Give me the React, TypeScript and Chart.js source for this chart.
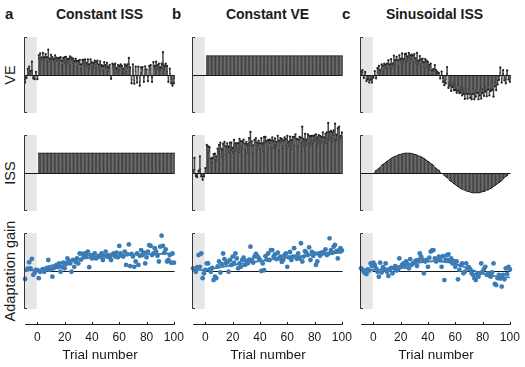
import React, { useEffect, useRef } from "react";
import { Chart, registerables } from "chart.js";

Chart.register(...registerables);

// ---------- text ----------
const PANEL_LETTERS = ["a", "b", "c"];
const PANEL_TITLES = ["Constant ISS", "Constant VE", "Sinusoidal ISS"];
const ROW_LABELS = ["VE", "ISS", "Adaptation gain"];
const X_TITLE = "Trial number";

// ---------- categories ----------
const PRE_TRIALS = [-9, -8, -7, -6, -5, -4, -3, -2, -1, 0];
const TRIALS = Array.from({ length: 100 }, (_, i) => i + 1);
const ALL_TRIALS = [...PRE_TRIALS, ...TRIALS];
const X_TICKS = [0, 20, 40, 60, 80, 100];

// ---------- column a : constant ISS ----------
const VE_A_PRE = [-0.12, -0.03, 0.06, 0.09, 0.05, 0.14, -0.04, -0.06, 0.02, -0.05];
const VE_A_PRE_ERR = [0.08, 0.05, 0.1, 0.13, 0.06, 0.21, 0.05, 0.05, 0.06, 0.06];
const VE_A = [
  0.44, 0.47, 0.40, 0.46, 0.42, 0.45, 0.38, 0.47, 0.36, 0.43,
  0.41, 0.30, 0.44, 0.36, 0.39, 0.33, 0.40, 0.28, 0.37, 0.32,
  0.38, 0.30, 0.35, 0.27, 0.40, 0.33, 0.25, 0.35, 0.22, 0.30,
  0.28, 0.18, 0.32, 0.26, 0.35, 0.22, 0.29, 0.19, 0.31, 0.25,
  0.17, 0.28, 0.22, 0.30, 0.14, 0.26, 0.20, 0.12, 0.24, 0.18,
  0.22, 0.10, 0.19, -0.04, 0.20, 0.15, 0.23, 0.08, 0.17, 0.12,
  0.20, 0.14, 0.05, 0.22, 0.10, 0.18, 0.30, 0.12, -0.12, 0.16,
  -0.15, 0.10, -0.10, 0.14, -0.18, 0.08, 0.12, -0.08, 0.15, 0.05,
  -0.06, 0.12, 0.18, -0.08, 0.22, 0.16, 0.25, 0.14, 0.20, 0.12,
  0.18, 0.30, 0.15, 0.22, 0.10, -0.08, 0.05, -0.12, -0.20, -0.10,
];
const VE_A_ERR = [
  0.08, 0.1, 0.06, 0.12, 0.05, 0.1, 0.09, 0.2, 0.07, 0.1,
  0.06, 0.12, 0.08, 0.1, 0.05, 0.12, 0.07, 0.1, 0.08, 0.15,
  0.1, 0.12, 0.08, 0.22, 0.06, 0.1, 0.12, 0.08, 0.15, 0.07,
  0.12, 0.1, 0.08, 0.14, 0.06, 0.1, 0.12, 0.09, 0.1, 0.08,
  0.15, 0.1, 0.12, 0.08, 0.14, 0.1, 0.06, 0.12, 0.1, 0.08,
  0.1, 0.12, 0.08, 0.06, 0.1, 0.12, 0.07, 0.1, 0.09, 0.12,
  0.08, 0.1, 0.12, 0.06, 0.14, 0.1, 0.15, 0.08, 0.1, 0.12,
  0.08, 0.12, 0.1, 0.08, 0.1, 0.12, 0.09, 0.1, 0.08, 0.1,
  0.1, 0.12, 0.08, 0.1, 0.12, 0.08, 0.1, 0.12, 0.1, 0.08,
  0.12, 0.3, 0.1, 0.08, 0.14, 0.1, 0.12, 0.1, 0.08, 0.12,
];
const ISS_A_LEVEL = 0.53;
const GAIN_A_PRE = [-0.21, 0.03, 0.06, 0.23, 0.07, 0.32, -0.10, -0.05, 0.03, 0.02];
const GAIN_A = [
  -0.19, -0.02, 0.00, 0.05, -0.02, 0.03, 0.08, 0.29, 0.03, 0.06,
  -0.15, 0.07, 0.12, 0.16, 0.10, 0.20, -0.02, 0.11, 0.22, 0.07,
  0.18, 0.33, 0.26, 0.20, -0.02, 0.29, 0.11, 0.24, 0.33, 0.20,
  0.46, 0.30, 0.45, 0.38, 0.46, 0.40, 0.51, 0.10, 0.42, 0.33,
  0.42, 0.46, 0.33, 0.36, 0.40, 0.38, 0.46, 0.29, 0.40, 0.51,
  0.38, 0.42, 0.35, 0.29, 0.44, 0.46, 0.38, 0.48, 0.36, 0.66,
  0.46, 0.40, 0.38, 0.51, 0.16, 0.44, 0.70, 0.13, 0.45, 0.38,
  0.11, 0.25, 0.46, 0.16, 0.40, 0.55, 0.42, 0.48, 0.20, 0.36,
  0.51, 0.68, 0.66, 0.42, 0.46, 0.60, 0.51, 0.40, 0.25, 0.64,
  0.93, 0.66, 0.48, 0.57, 0.25, 0.29, 0.42, 0.22, 0.46, 0.22,
];

// ---------- column b : constant VE ----------
const VE_B_LEVEL = 0.51;
const ISS_B_PRE = [0.02, 0.10, -0.03, -0.06, 0.02, 0.12, -0.05, -0.10, -0.04, 0.05];
const ISS_B_PRE_ERR = [0.05, 0.30, 0.05, 0.05, 0.04, 0.32, 0.04, 0.08, 0.05, 0.08];
const ISS_B = [
  0.62, 0.55, 0.58, 0.30, 0.28, 0.40, 0.36, 0.34, 0.52, 0.60,
  0.68, 0.45, 0.62, 0.72, 0.50, 0.66, 0.55, 0.70, 0.60, 0.52,
  0.75, 0.58, 0.68, 0.64, 0.55, 0.72, 0.65, 0.78, 0.62, 0.70,
  0.56, 0.80, 0.72, 0.68, 0.55, 0.75, 0.82, 0.60, 0.70, 0.66,
  0.74, 0.58, 0.85, 0.80, 0.72, 0.62, 0.78, 0.68, 0.82, 0.65,
  0.76, 0.70, 0.88, 0.60, 0.80, 0.72, 0.66, 0.84, 0.74, 0.78,
  0.70, 0.86, 0.62, 0.80, 0.75, 0.90, 0.72, 0.68, 0.85, 0.78,
  0.82, 0.70, 0.88, 0.76, 0.92, 0.80, 0.72, 0.86, 0.78, 0.84,
  0.90, 0.74, 0.82, 0.88, 0.80, 0.95, 0.84, 0.78, 0.92, 0.86,
  0.88, 0.96, 0.82, 1.00, 0.90, 0.86, 0.98, 0.92, 0.88, 0.95,
];
const ISS_B_ERR = [
  0.12, 0.15, 0.1, 0.08, 0.12, 0.1, 0.15, 0.1, 0.12, 0.14,
  0.12, 0.18, 0.15, 0.1, 0.2, 0.12, 0.15, 0.1, 0.2, 0.14,
  0.12, 0.2, 0.1, 0.15, 0.35, 0.12, 0.18, 0.1, 0.15, 0.12,
  0.2, 0.12, 0.36, 0.15, 0.18, 0.12, 0.1, 0.2, 0.15, 0.12,
  0.18, 0.2, 0.1, 0.15, 0.12, 0.25, 0.1, 0.18, 0.12, 0.2,
  0.15, 0.12, 0.1, 0.25, 0.12, 0.18, 0.2, 0.1, 0.15, 0.2,
  0.12, 0.1, 0.25, 0.15, 0.2, 0.12, 0.18, 0.2, 0.1, 0.15,
  0.4, 0.2, 0.15, 0.12, 0.1, 0.18, 0.25, 0.12, 0.2, 0.15,
  0.12, 0.2, 0.18, 0.1, 0.15, 0.12, 0.1, 0.25, 0.15, 0.46,
  0.2, 0.15, 0.25, 0.12, 0.4, 0.15, 0.2, 0.3, 0.1, 0.12,
];
const GAIN_B_PRE = [0.07, 0.04, -0.02, 0.10, 0.42, 0.11, 0.46, -0.19, -0.06, 0.03];
const GAIN_B = [
  0.20, 0.20, 0.04, -0.02, 0.08, -0.24, -0.15, -0.19, 0.12, 0.25,
  -0.04, 0.18, 0.46, 0.31, 0.20, 0.24, -0.02, 0.29, 0.16, 0.38,
  0.22, 0.46, 0.33, 0.07, 0.20, 0.11, 0.29, 0.35, 0.16, 0.26,
  0.20, 0.30, 0.64, 0.29, 0.22, 0.38, 0.45, 0.40, 0.34, 0.29,
  0.00, 0.20, 0.02, 0.39, 0.30, 0.46, 0.29, 0.55, 0.55, 0.38,
  0.44, 0.31, 0.48, 0.33, 0.38, 0.24, 0.29, 0.42, 0.46, 0.11,
  0.36, 0.50, 0.29, 0.38, 0.60, 0.38, 0.32, 0.46, 0.33, 0.73,
  0.25, 0.38, 0.52, 0.48, 0.42, 0.62, 0.29, 0.50, 0.40, 0.46,
  0.16, 0.25, 0.46, 0.40, 0.48, 0.46, 0.50, 0.57, 0.42, 0.45,
  0.86, 0.55, 0.48, 0.64, 0.69, 0.52, 0.33, 0.55, 0.60, 0.54,
];

// ---------- column c : sinusoidal ISS ----------
const VE_C_PRE = [0.05, 0.08, -0.04, 0.03, -0.10, -0.06, -0.14, -0.08, -0.12, -0.03];
const VE_C_PRE_ERR = [0.04, 0.05, 0.04, 0.05, 0.06, 0.05, 0.06, 0.05, 0.08, 0.04];
const VE_C = [
  0.02, -0.03, 0.08, 0.12, 0.05, 0.18, 0.10, 0.22, 0.15, 0.20,
  0.25, 0.18, 0.30, 0.22, 0.35, 0.28, 0.38, 0.25, 0.40, 0.33,
  0.42, 0.30, 0.45, 0.38, 0.35, 0.48, 0.32, 0.42, 0.36, 0.45,
  0.30, 0.40, 0.28, 0.38, 0.25, 0.33, 0.20, 0.30, 0.18, 0.24,
  0.15, 0.22, 0.02, 0.10, 0.16, 0.05, 0.02, 0.00, -0.03, 0.01,
  -0.08, -0.15, -0.12, 0.05, -0.22, -0.18, -0.28, -0.20, -0.30, -0.25,
  -0.35, -0.28, -0.38, -0.30, -0.42, -0.35, -0.45, -0.38, -0.48, -0.40,
  -0.44, -0.50, -0.38, -0.46, -0.42, -0.35, -0.48, -0.40, -0.44, -0.36,
  -0.40, -0.32, -0.42, -0.28, -0.38, -0.30, -0.25, -0.35, -0.20, -0.28,
  -0.15, -0.05, 0.08, -0.10, 0.05, -0.08, -0.12, 0.04, -0.06, -0.10,
];
const VE_C_ERR = [
  0.08, 0.06, 0.1, 0.12, 0.08, 0.1, 0.15, 0.08, 0.12, 0.1,
  0.14, 0.1, 0.12, 0.08, 0.16, 0.12, 0.1, 0.14, 0.12, 0.1,
  0.15, 0.12, 0.1, 0.18, 0.14, 0.1, 0.2, 0.12, 0.15, 0.1,
  0.14, 0.18, 0.1, 0.12, 0.16, 0.1, 0.14, 0.12, 0.2, 0.1,
  0.12, 0.08, 0.1, 0.06, 0.1, 0.08, 0.06, 0.05, 0.06, 0.08,
  0.1, 0.12, 0.1, 0.16, 0.12, 0.1, 0.14, 0.12, 0.1, 0.15,
  0.12, 0.14, 0.1, 0.16, 0.12, 0.15, 0.18, 0.12, 0.14, 0.1,
  0.16, 0.14, 0.12, 0.18, 0.15, 0.12, 0.16, 0.14, 0.18, 0.12,
  0.15, 0.12, 0.14, 0.1, 0.16, 0.12, 0.14, 0.22, 0.1, 0.12,
  0.1, 0.08, 0.12, 0.1, 0.08, 0.06, 0.1, 0.08, 0.06, 0.08,
];
const ISS_C = [
  0.03, 0.07, 0.10, 0.13, 0.16, 0.20, 0.23, 0.26, 0.28, 0.31,
  0.34, 0.36, 0.39, 0.41, 0.43, 0.45, 0.46, 0.48, 0.49, 0.50,
  0.51, 0.52, 0.53, 0.53, 0.53, 0.53, 0.53, 0.52, 0.51, 0.50,
  0.49, 0.48, 0.46, 0.45, 0.43, 0.41, 0.39, 0.36, 0.34, 0.31,
  0.28, 0.26, 0.23, 0.20, 0.16, 0.13, 0.10, 0.07, 0.03, 0.00,
  -0.03, -0.07, -0.10, -0.13, -0.16, -0.20, -0.23, -0.26, -0.28, -0.31,
  -0.34, -0.36, -0.39, -0.41, -0.43, -0.45, -0.46, -0.48, -0.49, -0.50,
  -0.51, -0.52, -0.53, -0.53, -0.53, -0.53, -0.53, -0.52, -0.51, -0.50,
  -0.49, -0.48, -0.46, -0.45, -0.43, -0.41, -0.39, -0.36, -0.34, -0.31,
  -0.28, -0.26, -0.23, -0.20, -0.16, -0.13, -0.10, -0.07, -0.03, 0.00,
];
const GAIN_C_PRE = [0.07, 0.03, -0.02, -0.06, -0.08, 0.04, 0.01, 0.20, 0.13, 0.22];
const GAIN_C = [
  0.16, 0.07, -0.02, -0.15, 0.22, -0.04, 0.10, 0.04, 0.20, -0.02,
  -0.13, 0.03, 0.08, -0.06, 0.07, 0.13, 0.01, 0.04, 0.33, 0.10,
  0.16, 0.20, 0.11, 0.25, 0.18, 0.07, 0.31, 0.16, 0.20, 0.22,
  0.27, 0.13, 0.29, 0.46, 0.38, 0.30, -0.06, 0.25, 0.29, 0.11,
  0.35, 0.51, 0.54, 0.55, 0.33, 0.25, 0.30, 0.38, 0.29, 0.11,
  0.39, -0.24, 0.30, 0.42, 0.44, 0.29, 0.33, 0.20, 0.26, 0.11,
  0.25, -0.22, 0.03, 0.15, 0.20, -0.06, -0.02, 0.20, 0.07, 0.10,
  0.04, -0.06, -0.10, -0.19, -0.24, -0.08, -0.15, -0.06, 0.20, -0.02,
  0.05, 0.11, -0.10, -0.06, -0.12, -0.15, -0.04, 0.20, -0.34, -0.37,
  -0.19, -0.10, -0.20, -0.41, -0.10, -0.22, 0.07, -0.08, 0.11, 0.04,
];

// ---------- fitted curves ----------
const FIT_T = [-9, -5, 0, 5, 10, 15, 20, 25, 30, 35, 40, 45, 50, 55, 60, 65, 70, 75, 80, 85, 90, 95, 100];
const FIT_A = [0.02, 0.02, 0.02, 0.08, 0.14, 0.19, 0.23, 0.27, 0.30, 0.33, 0.35, 0.37, 0.39, 0.40, 0.41, 0.42, 0.43, 0.44, 0.44, 0.45, 0.45, 0.46, 0.46];
const FIT_B = [0.03, 0.03, 0.02, 0.06, 0.09, 0.12, 0.15, 0.18, 0.21, 0.24, 0.26, 0.29, 0.31, 0.33, 0.35, 0.37, 0.39, 0.41, 0.43, 0.44, 0.46, 0.47, 0.48];
const FIT_C = [0.05, 0.04, 0.03, 0.04, 0.07, 0.10, 0.14, 0.17, 0.20, 0.23, 0.25, 0.26, 0.25, 0.23, 0.19, 0.13, 0.06, -0.01, -0.07, -0.11, -0.14, -0.16, -0.17];

// ---------- style & layout ----------
const FONT = "'Liberation Sans', Arial, Helvetica, sans-serif";
const INK = "#1a1a1a";
const BAR_FILL = "#6e6e6e";
const BAR_EDGE = "#1c1c1c";
const ERR_COLOR = "#4a4a4a";
const DOT_COLOR = "#222222";
const GAIN_COLOR = "#3b7cb6";
const GRAY_BAND = "#e6e6e6";

const PX_PER_TRIAL = 1.365;
const EDGE_PAD = 10; // extra canvas px on both sides
const X_MIN = -12 - EDGE_PAD / PX_PER_TRIAL;
const CANVAS_W = 158 + 2 * EDGE_PAD;
const X_MAX = X_MIN + CANVAS_W / PX_PER_TRIAL;
const COL_LEFT = [21 - EDGE_PAD, 189 - EDGE_PAD, 357 - EDGE_PAD];
const ROW_TOP = [15, 113, 211];
const ROW_H = [120, 120, 156];
const UNIT_PX = 38;
const ZERO_PX = 60;
const AXIS_H = 43;
const BAND_FROM = -9.5;
const BAND_TO = -0.5;
const BRACKET_X = -9.5;
const AXIS_FROM = -9;
const AXIS_TO = 100.5;
const GAIN_ZERO_FROM = -0.5;

const LETTER_X = [5, 172, 342];
const TITLE_CX = [99.5, 267.5, 434.5];
const LABEL_CY = [75, 173, 271];

const pts = (xs: number[], ys: number[]) => xs.map((x, i) => ({ x, y: ys[i] }));
const tip = (y: number, e: number) => (y >= 0 ? y + e : y - e);

function barGroup(xs: number[], ys: number[], errs?: number[]) {
  const sets: any[] = [
    {
      type: "bar",
      data: pts(xs, ys),
      backgroundColor: BAR_FILL,
      borderColor: BAR_EDGE,
      borderWidth: { top: 1, bottom: 1, left: 0.4, right: 0.4 },
      borderSkipped: "start",
      barPercentage: 1,
      categoryPercentage: 1,
      grouped: false,
      order: 3,
    },
  ];
  if (errs) {
    sets.push({
      type: "bar",
      data: xs.map((x, i) => ({ x, y: [ys[i], tip(ys[i], errs[i])] })),
      backgroundColor: ERR_COLOR,
      borderWidth: 0,
      barThickness: 0.9,
      grouped: false,
      order: 2,
    });
    sets.push({
      type: "scatter",
      data: xs.map((x, i) => ({ x, y: tip(ys[i], errs[i]) })),
      pointRadius: 1.1,
      pointBackgroundColor: DOT_COLOR,
      pointBorderWidth: 0,
      order: 1,
    });
  }
  return sets;
}

function gainGroup(xs: number[], ys: number[], fit: number[]) {
  return [
    {
      type: "line",
      data: pts(FIT_T, fit),
      borderColor: GAIN_COLOR,
      borderWidth: 1.8,
      pointRadius: 0,
      cubicInterpolationMode: "monotone",
      fill: false,
      order: 1,
    },
    {
      type: "scatter",
      data: pts(xs, ys),
      pointRadius: 2.4,
      pointBackgroundColor: GAIN_COLOR,
      pointBorderWidth: 0,
      order: 2,
    },
  ];
}

function hline(ctx: CanvasRenderingContext2D, xa: number, xb: number, py: number) {
  const yy = Math.round(py) + 0.5;
  ctx.strokeStyle = INK;
  ctx.lineWidth = 1;
  ctx.beginPath();
  ctx.moveTo(xa, yy);
  ctx.lineTo(xb, yy);
  ctx.stroke();
}

function decoPlugin(row: number) {
  return {
    id: "deco" + row,
    beforeDatasetsDraw(chart: any) {
      const { ctx } = chart;
      const x = chart.scales.x;
      const y = chart.scales.y;
      ctx.save();
      const x0 = x.getPixelForValue(BAND_FROM);
      const x1 = x.getPixelForValue(BAND_TO);
      const yt = y.getPixelForValue(1);
      const yb = y.getPixelForValue(-1);
      ctx.fillStyle = GRAY_BAND;
      ctx.fillRect(x0, yt, x1 - x0, yb - yt);
      if (row === 2) hline(ctx, x.getPixelForValue(GAIN_ZERO_FROM), x.getPixelForValue(AXIS_TO), y.getPixelForValue(0));
      ctx.restore();
    },
    afterDatasetsDraw(chart: any) {
      const { ctx } = chart;
      const x = chart.scales.x;
      const y = chart.scales.y;
      ctx.save();
      if (row < 2) hline(ctx, x.getPixelForValue(BRACKET_X), x.getPixelForValue(AXIS_TO), y.getPixelForValue(0));
      const bx = Math.floor(x.getPixelForValue(BRACKET_X)) + 0.5;
      const bt = Math.round(y.getPixelForValue(1)) + 0.5;
      const bb = Math.round(y.getPixelForValue(-1)) - 0.5;
      ctx.strokeStyle = "#333333";
      ctx.lineWidth = 1;
      ctx.beginPath();
      ctx.moveTo(bx + 2.5, bt);
      ctx.lineTo(bx, bt);
      ctx.lineTo(bx, bb);
      ctx.lineTo(bx + 2.5, bb);
      ctx.stroke();
      if (row === 2) {
        const ay = Math.round(chart.chartArea.bottom) + 0.5;
        ctx.strokeStyle = INK;
        ctx.beginPath();
        ctx.moveTo(x.getPixelForValue(AXIS_FROM), ay);
        ctx.lineTo(x.getPixelForValue(AXIS_TO), ay);
        for (const t of X_TICKS) {
          const tx = Math.round(x.getPixelForValue(t)) + 0.5;
          ctx.moveTo(tx, ay);
          ctx.lineTo(tx, ay - 2.5);
        }
        ctx.stroke();
      }
      ctx.restore();
    },
  };
}

function makeConfig(row: number, datasets: any[]): any {
  const bottom = row === 2;
  const h = ROW_H[row];
  const yMax = ZERO_PX / UNIT_PX;
  const yMin = -(h - (bottom ? AXIS_H : 0) - ZERO_PX) / UNIT_PX;
  return {
    type: "bar",
    data: { datasets },
    options: {
      animation: false,
      responsive: false,
      maintainAspectRatio: false,
      devicePixelRatio: 1,
      events: [],
      layout: { padding: 0, autoPadding: false },
      plugins: {
        legend: { display: false },
        tooltip: { enabled: false },
        title: { display: false },
      },
      scales: {
        x: {
          type: "linear",
          min: X_MIN,
          max: X_MAX,
          offset: false,
          display: bottom,
          grid: { display: false, drawTicks: false },
          border: { display: false },
          afterBuildTicks: (scale: any) => {
            scale.ticks = X_TICKS.map((v) => ({ value: v }));
          },
          afterFit: (scale: any) => {
            if (bottom) {
              scale.height = AXIS_H;
              scale.paddingLeft = 0;
              scale.paddingRight = 0;
            }
          },
          ticks: {
            autoSkip: false,
            maxRotation: 0,
            minRotation: 0,
            padding: 6,
            color: INK,
            font: { family: FONT, size: 12 },
          },
          title: {
            display: bottom,
            text: X_TITLE,
            color: INK,
            font: { family: FONT, size: 13.5 },
            padding: { top: 0, bottom: 3.5 },
          },
        },
        y: {
          type: "linear",
          min: yMin,
          max: yMax,
          display: false,
        },
      },
    },
    plugins: [decoPlugin(row)],
  };
}

function Panel({ row, col, datasets }: { row: number; col: number; datasets: any[] }) {
  const ref = useRef<HTMLCanvasElement>(null);
  useEffect(() => {
    const chart = new Chart(ref.current as HTMLCanvasElement, makeConfig(row, datasets));
    return () => chart.destroy();
  }, []);
  return (
    <canvas
      ref={ref}
      width={CANVAS_W}
      height={ROW_H[row]}
      style={{
        position: "absolute",
        left: COL_LEFT[col],
        top: ROW_TOP[row],
        width: CANVAS_W,
        height: ROW_H[row],
      }}
    />
  );
}

const PANELS = [
  { row: 0, col: 0, datasets: barGroup(ALL_TRIALS, [...VE_A_PRE, ...VE_A], [...VE_A_PRE_ERR, ...VE_A_ERR]) },
  { row: 0, col: 1, datasets: barGroup(TRIALS, TRIALS.map(() => VE_B_LEVEL)) },
  { row: 0, col: 2, datasets: barGroup(ALL_TRIALS, [...VE_C_PRE, ...VE_C], [...VE_C_PRE_ERR, ...VE_C_ERR]) },
  { row: 1, col: 0, datasets: barGroup(TRIALS, TRIALS.map(() => ISS_A_LEVEL)) },
  { row: 1, col: 1, datasets: barGroup(ALL_TRIALS, [...ISS_B_PRE, ...ISS_B], [...ISS_B_PRE_ERR, ...ISS_B_ERR]) },
  { row: 1, col: 2, datasets: barGroup(TRIALS, ISS_C) },
  { row: 2, col: 0, datasets: gainGroup(ALL_TRIALS, [...GAIN_A_PRE, ...GAIN_A], FIT_A) },
  { row: 2, col: 1, datasets: gainGroup(ALL_TRIALS, [...GAIN_B_PRE, ...GAIN_B], FIT_B) },
  { row: 2, col: 2, datasets: gainGroup(ALL_TRIALS, [...GAIN_C_PRE, ...GAIN_C], FIT_C) },
];

export default function App() {
  return (
    <div
      style={{
        position: "absolute",
        left: 0,
        top: 0,
        width: 525,
        height: 367,
        background: "#ffffff",
        fontFamily: FONT,
        color: INK,
        overflow: "hidden",
      }}
    >
      {PANEL_LETTERS.map((l, i) => (
        <div
          key={"l" + i}
          style={{ position: "absolute", left: LETTER_X[i], top: 6, fontSize: 15, fontWeight: "bold", lineHeight: 1 }}
        >
          {l}
        </div>
      ))}
      {PANEL_TITLES.map((t, i) => (
        <div
          key={"t" + i}
          style={{
            position: "absolute",
            left: TITLE_CX[i],
            top: 7,
            transform: "translateX(-50%)",
            fontSize: 14,
            fontWeight: "bold",
            lineHeight: 1,
            whiteSpace: "nowrap",
          }}
        >
          {t}
        </div>
      ))}
      {ROW_LABELS.map((t, i) => (
        <div
          key={"r" + i}
          style={{
            position: "absolute",
            left: 9.5,
            top: LABEL_CY[i],
            transform: "translate(-50%, -50%) rotate(-90deg)",
            fontSize: 14.5,
            lineHeight: 1,
            whiteSpace: "nowrap",
          }}
        >
          {t}
        </div>
      ))}
      {PANELS.map((p) => (
        <Panel key={p.row + "-" + p.col} row={p.row} col={p.col} datasets={p.datasets} />
      ))}
    </div>
  );
}
